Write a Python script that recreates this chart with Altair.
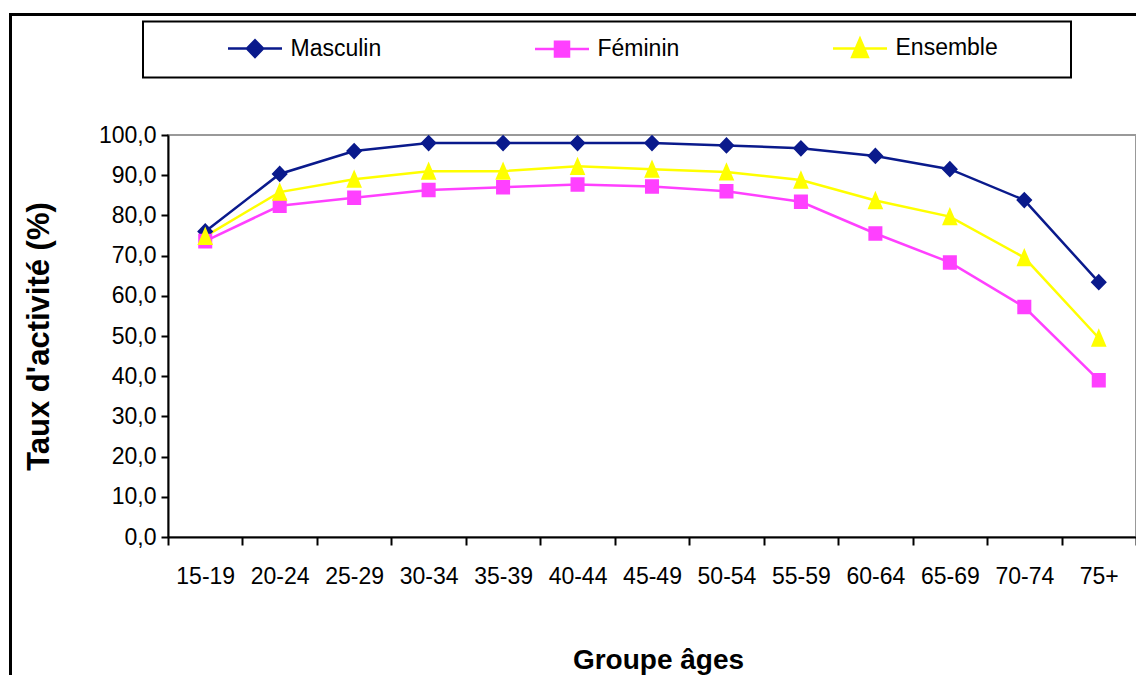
import altair as alt
import pandas as pd

# ---- data ----
ages = ["15-19", "20-24", "25-29", "30-34", "35-39", "40-44", "45-49",
        "50-54", "55-59", "60-64", "65-69", "70-74", "75+"]
masculin = [76.0, 90.3, 96.0, 98.0, 98.0, 98.0, 98.0, 97.4, 96.7, 94.8, 91.5, 83.8, 63.4]
feminin = [73.6, 82.4, 84.4, 86.3, 87.0, 87.7, 87.2, 86.0, 83.4, 75.5, 68.3, 57.2, 39.0]
ensemble = [74.8, 85.8, 89.0, 91.0, 91.0, 92.2, 91.5, 90.8, 88.8, 83.7, 79.7, 69.5, 49.5]
series = ["Masculin", "Féminin", "Ensemble"]
y_ticks = [0, 10, 20, 30, 40, 50, 60, 70, 80, 90, 100]

# ---- styles ----
colors = ["#0A1A8C", "#FF40FF", "#FFFF00"]
# marker paths with a horizontal stroke segment (only visible in the legend)
paths = [
    "M-1,0H1M-0.3,0L0,-0.31L0.3,0L0,0.31Z",
    "M-1,0H1M-0.26,-0.27H0.26V0.27H-0.26Z",
    "M-1,0H1M0,-0.36L0.29,0.32H-0.29Z",
]
FONT = "Liberation Sans, Arial, sans-serif"

rows = []
for s, vals in zip(series, [masculin, feminin, ensemble]):
    for a, v in zip(ages, vals):
        rows.append({"age": a, "taux": v, "serie": s})
df = pd.DataFrame(rows)

W, H = 968, 402

x = alt.X(
    "age:N",
    sort=ages,
    scale=alt.Scale(type="band", domain=ages, paddingInner=0, paddingOuter=0),
    bandPosition=0.5,
    axis=alt.Axis(
        title="Groupe âges", labelAngle=0, tickBand="extent", tickSize=8,
        labelPadding=20, titleX=490, titleY=131, titleBaseline="alphabetic",
    ),
)
y = alt.Y(
    "taux:Q",
    scale=alt.Scale(domain=[0, 100], nice=False),
    axis=alt.Axis(
        values=y_ticks, grid=False, tickSize=7, labelPadding=5,
        labelExpr="replace(format(datum.value, '.1f'), '.', ',')",
        title="Taux d'activité (%)", titleX=-120, titleY=H / 2,
        titleBaseline="alphabetic", titleAngle=270, titleFontSize=31,
    ),
)

leg = alt.Legend(
    title=None, orient="none", legendX=58.5, legendY=-115.5,
    direction="horizontal", columns=3, columnPadding=148,
    symbolSize=2916, symbolStrokeWidth=2.5, labelFontSize=23, labelFont=FONT,
    labelColor="black", labelOffset=7, padding=0, zindex=2,
)

base = alt.Chart(df)

lines = base.mark_line(strokeWidth=2.5).encode(
    x=x, y=y,
    color=alt.Color("serie:N", sort=series, scale=alt.Scale(range=colors), legend=None),
)

points = base.mark_point(filled=True, size=2916, opacity=1).encode(
    x=x, y=y,
    fill=alt.Fill("serie:N", scale=alt.Scale(domain=series, range=colors), legend=leg),
    stroke=alt.Stroke("serie:N", scale=alt.Scale(domain=series, range=colors), legend=leg),
    shape=alt.Shape("serie:N", scale=alt.Scale(domain=series, range=paths), legend=leg),
    strokeWidth=alt.value(0),
)

one = alt.Data(values=[{"k": 0}])
frame_left = alt.Chart(one).mark_rule(color="black", strokeWidth=3).encode(
    x=alt.value(-157.5), y=alt.value(-122), y2=alt.value(560)
)
frame_top = alt.Chart(one).mark_rule(color="black", strokeWidth=3).encode(
    y=alt.value(-120.5), x=alt.value(-159), x2=alt.value(990)
)
legend_box = alt.Chart(one).mark_rect(fill="white", stroke="black", strokeWidth=2).encode(
    x=alt.value(-25), x2=alt.value(903), y=alt.value(-113.5), y2=alt.value(-57.5)
)

chart = alt.layer(frame_left, frame_top, legend_box, lines, points).properties(
    width=W, height=H,
    autosize="none",
    padding={"left": 160, "top": 127, "right": 0, "bottom": 138},
    background="white",
).configure_view(
    stroke="#999999", strokeWidth=2,
).configure_axis(
    domainColor="black", domainWidth=2, tickColor="black", tickWidth=2,
    labelFont=FONT, labelFontSize=23, labelColor="black",
    titleFont=FONT, titleFontSize=28, titleFontWeight="bold", titleColor="black",
)

chart.save("out.html", embed_options={"renderer": "svg", "actions": False})
